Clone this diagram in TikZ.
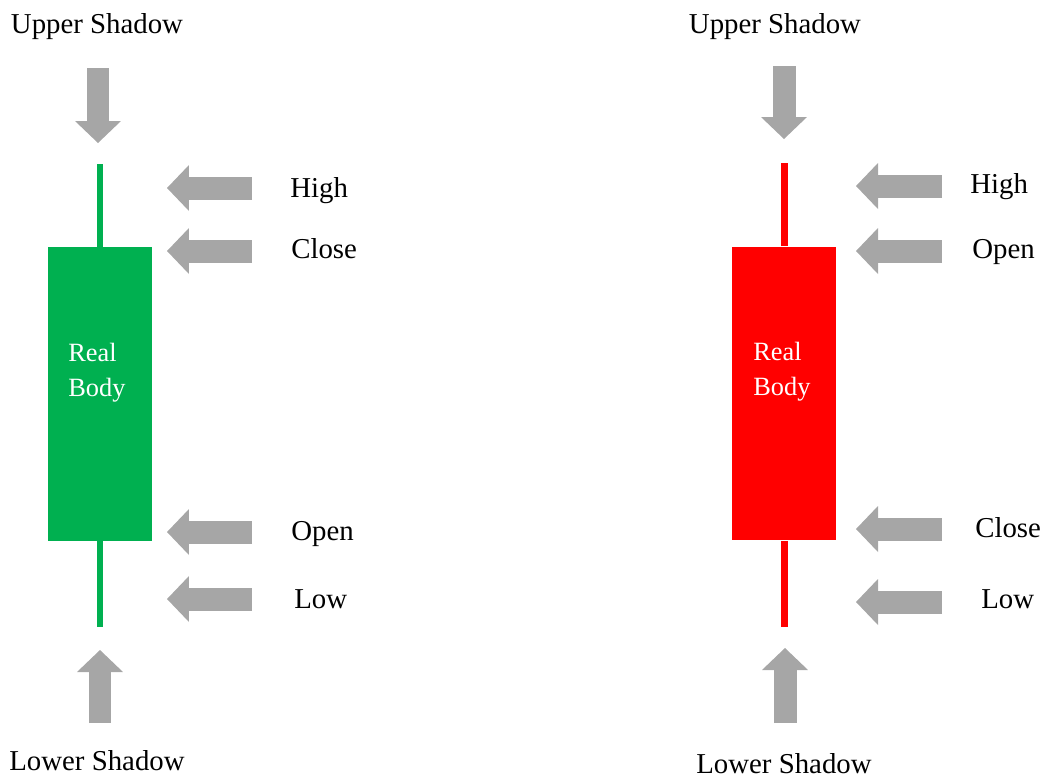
\documentclass[tikz,border=0pt]{standalone}
\usepackage{fontspec}
\setmainfont{Liberation Serif}
\usepackage{xcolor}
\usetikzlibrary{positioning,arrows.meta}
\definecolor{bullgreen}{HTML}{00B050}
\definecolor{bearred}{HTML}{FF0000}
\definecolor{pointgray}{HTML}{A6A6A6}
\begin{document}
\begin{tikzpicture}[x=0.02cm,y=-0.02cm,
  lbl/.style={inner sep=0pt,anchor=base,font=\fontsize{16.4pt}{19pt}\selectfont},
  side/.style={lbl,anchor=base west},
  body/.style={fill=#1,draw=none,minimum width=2.08cm,minimum height=5.88cm,inner sep=0pt},
  bodytxt/.style={text=white,align=left,anchor=west,inner sep=0pt,font=\fontsize{15pt}{19.9pt}\selectfont},
  wick/.style={draw=#1,line width=0.14cm},
  blockarrow/.style={draw=pointgray,line width=0.46cm,-{Triangle[width=0.92cm,length=0.44cm,line width=0pt]}}]
\useasboundingbox (0,0) rectangle (1046,779);
% bullish candle
\node[body=bullgreen] (gbody) at (100,394) {};
\node[bodytxt] (greal) at (68,373) {Real\\Body};
\coordinate (ghigh) at (100,164);
\coordinate (glow) at (100,627);
\draw[wick=bullgreen] (gbody.north) -- (ghigh);
\draw[wick=bullgreen] (gbody.south) -- (glow);
\node[lbl] (gupper) at (97,33) {Upper Shadow};
\node[lbl] (glower) at (97,770) {Lower Shadow};
\coordinate (gdown) at (98,68);
\coordinate (gdowntip) at (98,143);
\coordinate (gup) at (100,723);
\coordinate (guptip) at (100,650);
\draw[blockarrow] (gdown) -- (gdowntip);
\draw[blockarrow] (gup) -- (guptip);
\node[side] (ghi) at (290,197) {High};
\node[side] (gcl) at (291,258) {Close};
\node[side] (gop) at (291,540) {Open};
\node[side] (glo) at (294,608) {Low};
\foreach \n/\y in {hi/188,cl/251,op/532,lo/599}
  \draw[blockarrow] (252,\y) coordinate (g\n tail) -- (167,\y) coordinate (g\n tip);
% bearish candle
\node[body=bearred] (rbody) at (784,393.5) {};
\node[bodytxt] (rreal) at (753,372) {Real\\Body};
\coordinate (rhigh) at (784,163);
\coordinate (rlow) at (784,627);
\draw[wick=bearred] (rbody.north) -- (rhigh);
\draw[wick=bearred] (rbody.south) -- (rlow);
\node[lbl] (rupper) at (775,33) {Upper Shadow};
\node[lbl] (rlower) at (784,773) {Lower Shadow};
\coordinate (rdown) at (784,66);
\coordinate (rdowntip) at (784,139);
\coordinate (rup) at (785,723);
\coordinate (ruptip) at (785,648);
\draw[blockarrow] (rdown) -- (rdowntip);
\draw[blockarrow] (rup) -- (ruptip);
\node[side] (rhi) at (970,193) {High};
\node[side] (rop) at (972,258) {Open};
\node[side] (rcl) at (975,537) {Close};
\node[side] (rlo) at (981,608) {Low};
\foreach \n/\y in {hi/186,op/251,cl/529,lo/602}
  \draw[blockarrow] (942,\y) coordinate (r\n tail) -- (856,\y) coordinate (r\n tip);
\end{tikzpicture}
\end{document}
